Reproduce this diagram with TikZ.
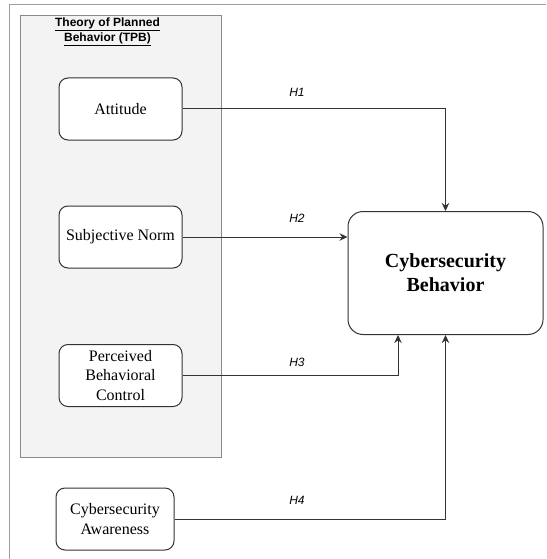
\documentclass[tikz,border=0pt]{standalone}
\usepackage{fontspec}
\setmainfont{Liberation Serif}
\newfontfamily\arialf{Liberation Sans}
\usetikzlibrary{arrows.meta,positioning}
\definecolor{framegray}{HTML}{A0A0A0}
\definecolor{tpbfill}{HTML}{F3F3F3}
\definecolor{tpbline}{HTML}{8A8A8A}
\definecolor{ink}{HTML}{333333}
\tikzset{
  box/.style={draw=ink, line width=1pt, rounded corners=9pt, fill=white,
    minimum width=123pt, minimum height=62pt, align=center,
    font=\fontsize{16}{19.5}\selectfont, inner sep=1pt},
  hlabel/.style={font=\arialf\itshape\fontsize{12}{14}\selectfont, inner sep=0pt},
  arr/.style={draw=ink, line width=1pt, -{Stealth[length=8pt,width=7.5pt]}}
}
\begin{document}
\begin{tikzpicture}[x=1pt,y=1pt]
\clip (0,0) rectangle (546,-559);
\fill[white] (0,0) rectangle (546,-559);
\draw[framegray, line width=1pt] (9,-5) rectangle (560,-580);
\node[draw=tpbline, fill=tpbfill, line width=0.8pt, minimum width=201pt, minimum height=442pt, inner sep=0pt] (tpb) at (120.5,-236) {};
\node[align=center, font=\arialf\bfseries\fontsize{12}{15}\selectfont, inner sep=0pt] (title) at (107.5,-32) {\underline{Theory of Planned}\\\underline{Behavior (TPB)}};
\node[box] (att) at (120.5,-109) {Attitude};
\node[box] (sn) at (120.5,-237) {Subjective Norm};
\node[box] (pbc) at (120.5,-375.5) {Perceived\\Behavioral\\Control};
\node[box, minimum width=118pt] (ca) at (115,-519) {Cybersecurity\\Awareness};
\node[box, minimum width=195pt, minimum height=123pt, rounded corners=15pt,
  font=\bfseries\fontsize{20}{24}\selectfont] (cb) at (445.5,-273) {Cybersecurity\\Behavior};
\draw[arr] (att.east) -| (cb.north);
\draw[arr] (sn.east) -- (sn.east -| cb.west);
\draw[arr] (pbc.east) -| ([xshift=-47.5pt]cb.south);
\draw[arr] (ca.east) -| (cb.south);
\node[hlabel] (h1) at (297,-92) {H1};
\node[hlabel] (h2) at (297,-218) {H2};
\node[hlabel] (h3) at (297,-362) {H3};
\node[hlabel] (h4) at (297,-500) {H4};
\end{tikzpicture}
\end{document}
